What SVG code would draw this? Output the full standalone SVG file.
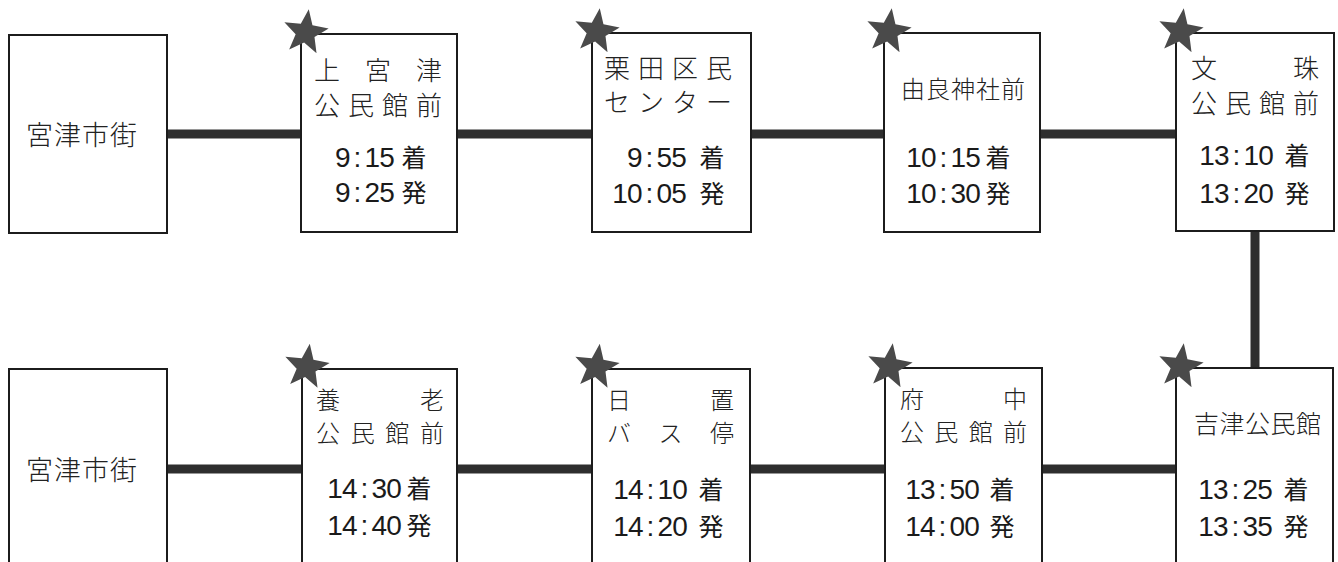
<svg xmlns="http://www.w3.org/2000/svg" xmlns:xlink="http://www.w3.org/1999/xlink" width="1338" height="562" viewBox="0 0 1338 562">
<style>
.box{fill:#fff;stroke:#1c1c1c;stroke-width:2}
.jp{font-family:"Noto Sans CJK JP","Noto Sans CJK SC",sans-serif;font-size:26px;font-weight:300;fill:#222}
.jpb{font-family:"Noto Sans CJK JP","Noto Sans CJK SC",sans-serif;font-size:24px;font-weight:300;fill:#222}
.jp24{font-family:"Noto Sans CJK JP","Noto Sans CJK SC",sans-serif;font-size:24px;font-weight:300;fill:#222}
.jp25{font-family:"Noto Sans CJK JP","Noto Sans CJK SC",sans-serif;font-size:25px;font-weight:300;fill:#222}
.jp27{font-family:"Noto Sans CJK JP","Noto Sans CJK SC",sans-serif;font-size:27px;font-weight:300;fill:#222}
.num{font-family:"Liberation Sans",Arial,sans-serif;font-size:28px;fill:#1a1a1a;text-anchor:middle}
.kj{font-family:"Noto Sans CJK JP","Noto Sans CJK SC",sans-serif;font-size:25px;fill:#1a1a1a;text-anchor:middle}
.conn{stroke:#2e2e2e;stroke-width:9;fill:none}
.star{fill:#4a4a4a}
</style>
<defs>
<path id="star" class="star" d="M0,-23.5 L5.88,-8.09 L22.35,-7.26 L9.51,3.09 L13.81,19.01 L0,10 L-13.81,19.01 L-9.51,3.09 L-22.35,-7.26 L-5.88,-8.09 Z"/>
</defs>
<rect width="1338" height="562" fill="#fff"/>
<g id="connectors">
<line class="conn" x1="167" y1="134" x2="301" y2="134"/>
<line class="conn" x1="457" y1="134" x2="592" y2="134"/>
<line class="conn" x1="751" y1="134" x2="884" y2="134"/>
<line class="conn" x1="1040" y1="134" x2="1176" y2="134"/>
<line class="conn" x1="1255" y1="231" x2="1255" y2="368"/>
<line class="conn" x1="167" y1="469" x2="302" y2="469"/>
<line class="conn" x1="457" y1="469" x2="592" y2="469"/>
<line class="conn" x1="750" y1="469" x2="885" y2="469"/>
<line class="conn" x1="1042" y1="469" x2="1176" y2="469"/>
</g>
<g id="node-miyazu-top">
<rect class="box" x="9" y="35" width="158" height="198"/>
<text class="jp27" x="26 54 82 110" y="145">宮津市街</text>
</g>
<g id="node-kamimiyazu">
<rect class="box" x="301" y="34" width="156" height="198"/>
<text class="jp" x="314 365 416" y="80">上宮津</text>
<text class="jp" x="314 348 382 416" y="115">公民館前</text>
<text class="num" x="342.8 357.5 372.3 387" y="167">9:15</text>
<text class="kj" x="414" y="167">着</text>
<text class="num" x="342.8 357.5 372.3 387" y="202">9:25</text>
<text class="kj" x="414" y="202">発</text>
<use xlink:href="#star" transform="translate(305.5,32.5) rotate(8)"/>
</g>
<g id="node-kurita">
<rect class="box" x="592" y="33" width="159" height="199"/>
<text class="jp" x="604 638 672 706" y="78">栗田区民</text>
<text class="jp" x="604 638 672 706" y="112">センター</text>
<text class="num" x="634.8 649.5 664.3 679" y="167">9:55</text>
<text class="kj" x="712" y="167">着</text>
<text class="num" x="620 634.8 649.5 664.3 679" y="203">10:05</text>
<text class="kj" x="712" y="203">発</text>
<use xlink:href="#star" transform="translate(596.5,31.5) rotate(8)"/>
</g>
<g id="node-yura">
<rect class="box" x="884" y="33" width="156" height="199"/>
<text class="jp24" x="901 926 951 976 1001" y="98">由良神社前</text>
<text class="num" x="914 928.8 943.5 958.3 973" y="167">10:15</text>
<text class="kj" x="998" y="167">着</text>
<text class="num" x="914 928.8 943.5 958.3 973" y="203">10:30</text>
<text class="kj" x="998" y="203">発</text>
<use xlink:href="#star" transform="translate(888.5,31.5) rotate(8)"/>
</g>
<g id="node-monju">
<rect class="box" x="1176" y="33" width="158" height="198"/>
<text class="jp" x="1191 1293" y="78">文珠</text>
<text class="jp" x="1191 1225 1259 1293" y="113">公民館前</text>
<text class="num" x="1207 1221.8 1236.5 1251.3 1266" y="165">13:10</text>
<text class="kj" x="1297" y="165">着</text>
<text class="num" x="1207 1221.8 1236.5 1251.3 1266" y="203">13:20</text>
<text class="kj" x="1297" y="203">発</text>
<use xlink:href="#star" transform="translate(1180.5,31.5) rotate(8)"/>
</g>
<g id="node-miyazu-bottom">
<rect class="box" x="9" y="369" width="158" height="220"/>
<text class="jp27" x="26 54 82 110" y="480">宮津市街</text>
</g>
<g id="node-yoro">
<rect class="box" x="302" y="369" width="155" height="220"/>
<text class="jpb" x="316 420" y="409">養老</text>
<text class="jpb" x="316 350.7 385.3 420" y="442">公民館前</text>
<text class="num" x="335 349.8 364.5 379.3 394" y="498">14:30</text>
<text class="kj" x="419" y="498">着</text>
<text class="num" x="335 349.8 364.5 379.3 394" y="535">14:40</text>
<text class="kj" x="419" y="535">発</text>
<use xlink:href="#star" transform="translate(306.5,367) rotate(8)"/>
</g>
<g id="node-hioki">
<rect class="box" x="592" y="369" width="158" height="220"/>
<text class="jpb" x="607 710" y="409">日置</text>
<text class="jpb" x="607 658.5 710" y="442">バス停</text>
<text class="num" x="621 635.8 650.5 665.3 680" y="499">14:10</text>
<text class="kj" x="711" y="499">着</text>
<text class="num" x="621 635.8 650.5 665.3 680" y="536">14:20</text>
<text class="kj" x="711" y="536">発</text>
<use xlink:href="#star" transform="translate(596.5,367) rotate(8)"/>
</g>
<g id="node-fuchu">
<rect class="box" x="885" y="368" width="157" height="221"/>
<text class="jpb" x="900 1003" y="408">府中</text>
<text class="jpb" x="900 934.3 968.7 1003" y="441">公民館前</text>
<text class="num" x="913 927.8 942.5 957.3 972" y="499">13:50</text>
<text class="kj" x="1002" y="499">着</text>
<text class="num" x="913 927.8 942.5 957.3 972" y="536">14:00</text>
<text class="kj" x="1002" y="536">発</text>
<use xlink:href="#star" transform="translate(889.5,366.5) rotate(8)"/>
</g>
<g id="node-yoshizu">
<rect class="box" x="1176" y="368" width="157" height="221"/>
<text class="jp25" x="1194 1219.5 1245 1270.5 1296" y="433">吉津公民館</text>
<text class="num" x="1206 1220.8 1235.5 1250.3 1265" y="499">13:25</text>
<text class="kj" x="1296" y="499">着</text>
<text class="num" x="1206 1220.8 1235.5 1250.3 1265" y="536">13:35</text>
<text class="kj" x="1296" y="536">発</text>
<use xlink:href="#star" transform="translate(1180.5,366.5) rotate(8)"/>
</g>
</svg>
